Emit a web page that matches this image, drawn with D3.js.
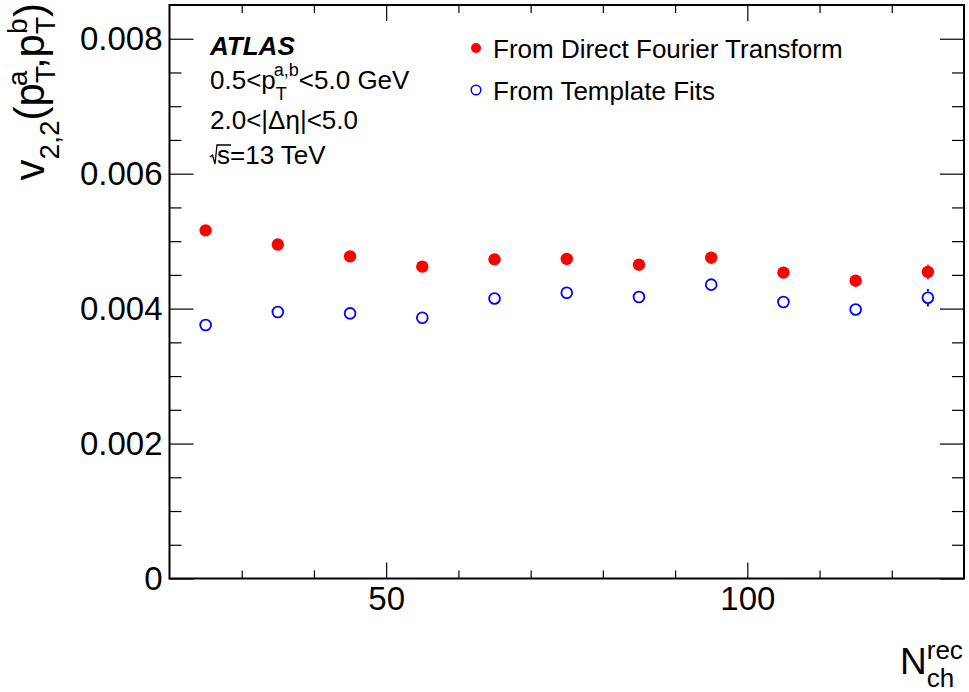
<!DOCTYPE html>
<html>
<head>
<meta charset="utf-8">
<script src="https://cdn.jsdelivr.net/npm/d3@7/dist/d3.min.js"></script>
<style>
  html, body { margin: 0; padding: 0; background: #fff; }
  svg { display: block; font-family: "Liberation Sans", Arial, Helvetica, sans-serif; }
</style>
</head>
<body>
<svg id="chart" width="969" height="692"></svg>
<script>
// Charged-particle multiplicity bins (bin centres)
const nch = [25, 35, 45, 55, 65, 75, 85, 95, 105, 115, 125];
// v_{2,2} from the direct Fourier transform
const v22Fourier = [0.00516, 0.00495, 0.004775, 0.004622, 0.00473, 0.004736, 0.004651, 0.004755, 0.004533, 0.004414, 0.004543];
const errFourier = [0.00003, 0.00003, 0.00003, 0.00003, 0.00003, 0.00003, 0.00003, 0.00004, 0.00004, 0.00005, 0.00011];
// v_{2,2} from the template fits
const v22Template = [0.003757, 0.00395, 0.003929, 0.003865, 0.004151, 0.004236, 0.004172, 0.004355, 0.004098, 0.003988, 0.004162];
const errTemplate = [0.00003, 0.00003, 0.00003, 0.00003, 0.00003, 0.00003, 0.00004, 0.00004, 0.00005, 0.00006, 0.00013];

// Axis ranges and ticks
const xDomain = [20, 130];
const yDomain = [0, 0.0085];
const xMajorTicks = [50, 100];
const xMinorTicks = [30, 40, 60, 70, 80, 90, 110, 120];
const yMajorTicks = [0, 0.002, 0.004, 0.006, 0.008];
const yMinorTicks = [0.0005, 0.001, 0.0015, 0.0025, 0.003, 0.0035, 0.0045, 0.005, 0.0055, 0.0065, 0.007, 0.0075];

const legendLabels = ["From Direct Fourier Transform", "From Template Fits"];

const svg = d3.select("#chart");
const L = 169.5, R = 964, T = 5, B = 578.5;
const x = d3.scaleLinear().domain(xDomain).range([L, R]);
const y = d3.scaleLinear().domain(yDomain).range([B, T]);

const red = "#ff0000", blue = "#0000ff";

// ---- axes (ticks point inward, mirrored on top/right) ----
function styleAxis(g) {
  g.select(".domain").remove();
  g.selectAll(".tick line").attr("stroke", "#000").attr("stroke-width", 1.2);
  g.selectAll("text").attr("fill", "#000");
}
const yFmt = d => d === 0 ? "0" : d3.format(".3f")(d);

svg.append("g").attr("transform", `translate(0,${B})`)
  .call(d3.axisBottom(x).tickValues(xMajorTicks).tickSize(-16).tickPadding(8).tickFormat(d3.format("d")))
  .call(styleAxis).selectAll("text").style("font-size", "33px");
svg.append("g").attr("transform", `translate(0,${B})`)
  .call(d3.axisBottom(x).tickValues(xMinorTicks).tickSize(-8).tickFormat(""))
  .call(styleAxis);
svg.append("g").attr("transform", `translate(0,${T})`)
  .call(d3.axisTop(x).tickValues(xMajorTicks).tickSize(-16).tickFormat(""))
  .call(styleAxis);
svg.append("g").attr("transform", `translate(0,${T})`)
  .call(d3.axisTop(x).tickValues(xMinorTicks).tickSize(-8).tickFormat(""))
  .call(styleAxis);

svg.append("g").attr("transform", `translate(${L},0)`)
  .call(d3.axisLeft(y).tickValues(yMajorTicks).tickSize(-24).tickPadding(7).tickFormat(yFmt))
  .call(styleAxis).selectAll("text").style("font-size", "33px");
svg.append("g").attr("transform", `translate(${L},0)`)
  .call(d3.axisLeft(y).tickValues(yMinorTicks).tickSize(-12).tickFormat(""))
  .call(styleAxis);
svg.append("g").attr("transform", `translate(${R},0)`)
  .call(d3.axisRight(y).tickValues(yMajorTicks).tickSize(-24).tickFormat(""))
  .call(styleAxis);
svg.append("g").attr("transform", `translate(${R},0)`)
  .call(d3.axisRight(y).tickValues(yMinorTicks).tickSize(-12).tickFormat(""))
  .call(styleAxis);

// frame
svg.append("rect").attr("x", L).attr("y", T).attr("width", R - L).attr("height", B - T)
  .attr("fill", "none").attr("stroke", "#000").attr("stroke-width", 2);

// ---- axis titles ----
const yTitle = svg.append("text")
  .attr("transform", "translate(44,3) rotate(-90)")
  .attr("text-anchor", "end").style("font-size", "42px").attr("fill", "#000");
yTitle.append("tspan").text("v");
yTitle.append("tspan").attr("dy", 15).style("font-size", "28px").text("2,2");
yTitle.append("tspan").attr("dy", -15).text("(p");
yTitle.append("tspan").attr("dy", 11).style("font-size", "28px").text("T");
yTitle.append("tspan").attr("dx", -17.1).attr("dy", -28).style("font-size", "28px").text("a");
yTitle.append("tspan").attr("dx", 1.5).attr("dy", 17).text(",p");
yTitle.append("tspan").attr("dy", 11).style("font-size", "28px").text("T");
yTitle.append("tspan").attr("dx", -17.1).attr("dy", -28).style("font-size", "28px").text("b");
yTitle.append("tspan").attr("dx", 1.5).attr("dy", 17).text(")");

const xTitle = svg.append("text").attr("x", 900).attr("y", 674)
  .style("font-size", "37px").attr("fill", "#000");
xTitle.append("tspan").text("N");
xTitle.append("tspan").attr("dy", -15).style("font-size", "26px").text("rec");
xTitle.append("tspan").attr("dx", -36).attr("dy", 28).style("font-size", "26px").text("ch");

// ---- ATLAS label block ----
svg.append("text").attr("x", 210).attr("y", 55)
  .style("font-size", "26px").style("font-weight", "bold").style("font-style", "italic")
  .text("ATLAS");
const l2 = svg.append("text").attr("x", 210).attr("y", 89).style("font-size", "26px");
l2.append("tspan").text("0.5<p");
l2.append("tspan").attr("dy", 11).style("font-size", "18px").text("T");
l2.append("tspan").attr("dx", -11).attr("dy", -24).style("font-size", "18px").text("a,b");
l2.append("tspan").attr("dy", 13).text("<5.0 GeV");
svg.append("text").attr("x", 210).attr("y", 129).style("font-size", "26px").text("2.0<|Δη|<5.0");
const b4 = 164;
svg.append("path")
  .attr("d", `M${210},${b4 - 7} L${212.5},${b4 - 9} L${215},${b4} L${217},${b4 - 19} L${231},${b4 - 19}`)
  .attr("fill", "none").attr("stroke", "#000").attr("stroke-width", 1.3);
svg.append("text").attr("x", 217).attr("y", b4).style("font-size", "26px").text("s=13 TeV");

// ---- legend ----
const legY = [48, 90];
svg.append("circle").attr("cx", 476).attr("cy", legY[0]).attr("r", 5).attr("fill", red);
svg.append("circle").attr("cx", 476).attr("cy", legY[1]).attr("r", 4.8)
  .attr("fill", "none").attr("stroke", blue).attr("stroke-width", 1.5);
legendLabels.forEach((t, i) => {
  svg.append("text").attr("x", 493).attr("y", legY[i] + 9.5).style("font-size", "26px").text(t);
});

// ---- data points with error bars ----
const rMark = 6.2;
function drawSeries(vals, errs, color, filled) {
  const g = svg.append("g");
  nch.forEach((n, i) => {
    const cx = x(n), cy = y(vals[i]);
    const top = y(vals[i] + errs[i]), bot = y(vals[i] - errs[i]);
    if (cy - top > rMark) {
      g.append("line").attr("x1", cx).attr("x2", cx).attr("y1", top).attr("y2", cy - rMark)
        .attr("stroke", color).attr("stroke-width", 2);
      g.append("line").attr("x1", cx).attr("x2", cx).attr("y1", cy + rMark).attr("y2", bot)
        .attr("stroke", color).attr("stroke-width", 2);
    }
  });
  g.selectAll("circle").data(nch).join("circle")
    .attr("cx", d => x(d))
    .attr("cy", (d, i) => y(vals[i]))
    .attr("r", filled ? rMark : rMark - 0.8)
    .attr("fill", filled ? color : "none")
    .attr("stroke", filled ? "none" : color)
    .attr("stroke-width", filled ? 0 : 1.8);
}
drawSeries(v22Fourier, errFourier, red, true);
drawSeries(v22Template, errTemplate, blue, false);
</script>
</body>
</html>
